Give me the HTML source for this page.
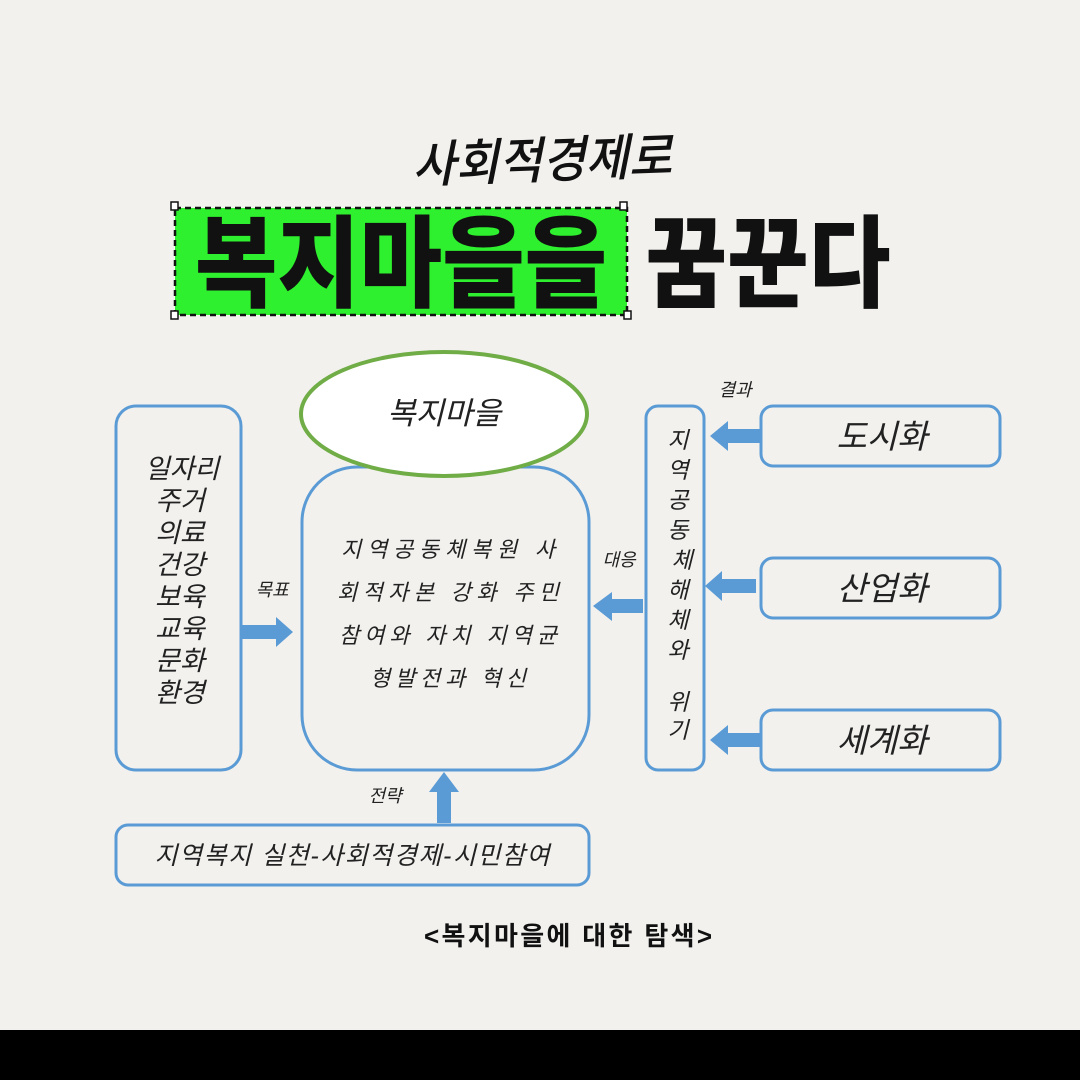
<!DOCTYPE html>
<html><head><meta charset="utf-8"><style>
html,body{margin:0;padding:0}
body{width:1080px;height:1080px;background:#f2f1ee;position:relative;overflow:hidden;font-family:"Liberation Sans","Noto Sans CJK KR",sans-serif}
svg{position:absolute;left:0;top:0}
text{font-family:"Liberation Sans","Noto Sans CJK KR",sans-serif}
</style></head><body>
<svg width="1080" height="1080" viewBox="0 0 1080 1080">
<rect x="0" y="1030" width="1080" height="50" fill="#000"/>
<text x="542" y="178" font-size="50" font-weight="500" text-anchor="middle" font-style="italic" fill="#111" transform="rotate(-2 542 160)" textLength="260" lengthAdjust="spacingAndGlyphs">사회적경제로</text>
<rect x="175" y="208" width="452" height="107" fill="#2ef02e" stroke="#111" stroke-width="2.5" stroke-dasharray="6,4"/>
<g fill="#fff" stroke="#111" stroke-width="1.5">
<rect x="171" y="202" width="7" height="8"/><rect x="620" y="202" width="7" height="8"/>
<rect x="171" y="311" width="7" height="8"/><rect x="624" y="311" width="7" height="8"/></g>
<text x="401" y="299" font-size="100" font-weight="900" text-anchor="middle" fill="#111" textLength="412" lengthAdjust="spacingAndGlyphs">복지마을을</text>
<text x="768" y="299" font-size="100" font-weight="900" text-anchor="middle" fill="#111" textLength="245" lengthAdjust="spacingAndGlyphs">꿈꾼다</text>

<g fill="none" stroke="#5b9bd5" stroke-width="3">
<rect x="302" y="467" width="287" height="303" rx="55"/>
<rect x="116" y="406" width="125" height="364" rx="20"/>
<rect x="646" y="406" width="58" height="364" rx="12"/>
<rect x="761" y="406" width="239" height="60" rx="12"/>
<rect x="761" y="558" width="239" height="60" rx="12"/>
<rect x="761" y="710" width="239" height="60" rx="12"/>
<rect x="116" y="825" width="473" height="60" rx="12"/>
</g>
<ellipse cx="444" cy="414" rx="143" ry="62" fill="#fff" stroke="#70ad47" stroke-width="4"/>
<g fill="#5b9bd5">
<polygon points="242,625 276,625 276,617 293,632 276,647 276,639 242,639"/>
<polygon points="437,823 437,792 429,792 444,772 459,792 451,792 451,823"/>
<polygon points="643,599 612,599 612,592 593,606 612,621 612,613 643,613"/>
<polygon points="761,429 728,429 728,421 710,436 728,451 728,443 761,443"/>
<polygon points="756,579 722,579 722,571 705,586 722,601 722,593 756,593"/>
<polygon points="761,733 728,733 728,725 710,740 728,755 728,747 761,747"/>
</g>
<g font-style="italic" fill="#222">
<text x="444" y="424" font-size="31" text-anchor="middle">복지마을</text>
<g font-size="22" text-anchor="middle">
<text x="448" y="557" textLength="214" lengthAdjust="spacing">지역공동체복원  사</text>
<text x="448" y="600" textLength="222" lengthAdjust="spacing">회적자본 강화  주민</text>
<text x="448" y="643" textLength="218" lengthAdjust="spacing">참여와 자치  지역균</text>
<text x="448" y="686" textLength="156" lengthAdjust="spacing">형발전과 혁신</text>
</g>
<g font-size="27" text-anchor="middle">
<text x="182" y="478">일자리</text><text x="180" y="510">주거</text><text x="180" y="542">의료</text><text x="180" y="574">건강</text>
<text x="180" y="606">보육</text><text x="180" y="638">교육</text><text x="180" y="670">문화</text><text x="180" y="702">환경</text>
</g>
<g font-size="23" text-anchor="middle">
<text x="678" y="448">지</text><text x="678" y="478">역</text><text x="678" y="508">공</text><text x="678" y="538">동</text>
<text x="682" y="568">체</text><text x="678" y="598">해</text><text x="678" y="628">체</text><text x="678" y="658">와</text>
<text x="678" y="710">위</text><text x="678" y="738">기</text>
</g>
<g font-size="33" text-anchor="middle">
<text x="882" y="448">도시화</text><text x="882" y="600">산업화</text><text x="882" y="752">세계화</text>
</g>
<text x="352" y="864" font-size="25" text-anchor="middle" textLength="395" lengthAdjust="spacing">지역복지 실천-사회적경제-시민참여</text>
<g font-size="18" text-anchor="middle">
<text x="272" y="596">목표</text><text x="619" y="566">대응</text><text x="735" y="396">결과</text><text x="385" y="802">전략</text>
</g>
</g>
<text x="568" y="945" font-size="26" font-weight="700" text-anchor="middle" fill="#111" textLength="288" lengthAdjust="spacing">&lt;복지마을에 대한 탐색&gt;</text>
</svg>
</body></html>
